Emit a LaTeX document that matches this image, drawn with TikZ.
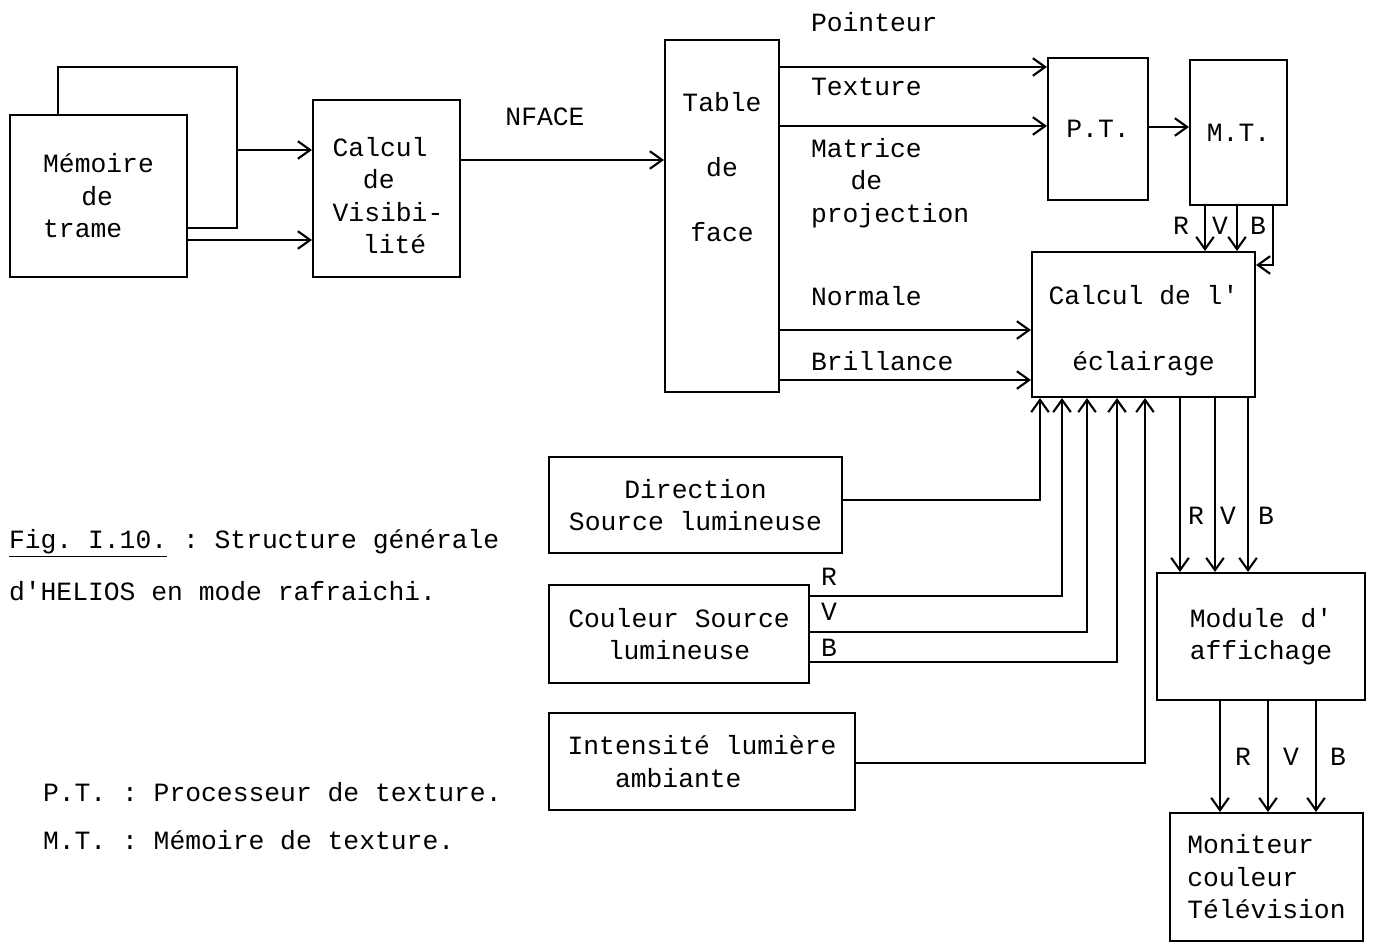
\documentclass[tikz,border=0pt]{standalone}
\usepackage{fontspec}
\setmonofont{Liberation Mono}
\usetikzlibrary{arrows.meta}
\begin{document}
\begin{tikzpicture}[x=0.02cm, y=-0.02cm, line width=1.2pt, >={Straight Barb[length=7pt,width=10pt]},
		every node/.style={font=\fontsize{15}{18.5}\selectfont\ttfamily},
		box/.style={draw, fill=white, align=center, inner sep=0pt},
		lbl/.style={inner sep=0pt, align=left}]
	\useasboundingbox (0,0) rectangle (1373,943);
	\node[box, minimum width=3.58cm, minimum height=3.22cm] (memback) at (147.5,147.5) {};
	\node[box, minimum width=3.54cm, minimum height=3.24cm, align=left] (mem) at (98.5,196) {Mémoire\\\hspace*{1.45em}de\\trame};
	\node[box, minimum width=2.94cm, minimum height=3.54cm] (vis) at (386.5,188.5) {};
	\node[lbl] (vistxt) at (388,195.5) {Calcul\\\hspace*{1.15em}de\\Visibi-\\\hspace*{1.15em}lité};
	\node[box, minimum width=2.28cm, minimum height=7.04cm] (table) at (722,216) {};
	\node[lbl, align=center] (tabletxt) at (722,167) {Table\\[18.5pt]de\\[18.5pt]face};
	\node[box, minimum width=2.0cm, minimum height=2.84cm] (pt) at (1098,129) {P.T.};
	\node[box, minimum width=1.94cm, minimum height=2.9cm] (mt) at (1238.5,132.5) {M.T.};
	\node[box, minimum width=4.46cm, minimum height=2.9cm] (ecl) at (1143.5,324.5) {};
	\node[lbl, align=center] (ecltxt) at (1143.5,331) {Calcul de l'\\[19pt]éclairage};
	\node[box, minimum width=5.86cm, minimum height=1.92cm] (dir) at (695.5,505) {Direction\\Source lumineuse};
	\node[box, minimum width=5.2cm, minimum height=1.96cm] (coul) at (679,634) {Couleur Source\\lumineuse};
	\node[box, minimum width=6.12cm, minimum height=1.94cm, align=left] (amb) at (702,761.5) {Intensité lumière\\\hspace*{1.8em}ambiante};
	\node[box, minimum width=4.16cm, minimum height=2.54cm, align=left] (mod) at (1261,636.5) {Module d'\\affichage};
	\node[box, minimum width=3.86cm, minimum height=2.56cm, align=left] (mon) at (1266.5,877) {Moniteur\\couleur\\Télévision};
	\draw[->] (memback.east |- 0,150) -- (vis.west |- 0,150);
	\draw[->] (mem.east |- 0,240) -- (vis.west |- 0,240);
	\draw[->] (vis.east |- 0,160) -- (table.west |- 0,160);
	\node (nface) at (545,117) {NFACE};
	\draw[->] (table.east |- 0,67) -- (pt.west |- 0,67);
	\draw[->] (table.east |- 0,126) -- (pt.west |- 0,126);
	\node[lbl, anchor=west] (pointeur) at (810,22) {Pointeur};
	\node[lbl, anchor=west] (texture) at (810,87) {Texture};
	\node[lbl, anchor=west] (matrice) at (810,183) {Matrice\\\hspace*{1.5em}de\\projection};
	\draw[->] (pt.east |- 0,127) -- (mt.west |- 0,127);
	\draw[->] (1205,0 |- mt.south) -- (1205,0 |- ecl.north);
	\draw[->] (1237,0 |- mt.south) -- (1237,0 |- ecl.north);
	\draw[->] (1273,0 |- mt.south) -- (1273,265) -- (ecl.east |- 0,265);
	\node (r1) at (1181,226) {R};
	\node (v1) at (1220,226) {V};
	\node (b1) at (1258,226) {B};
	\draw[->] (table.east |- 0,330) -- (ecl.west |- 0,330);
	\draw[->] (table.east |- 0,380) -- (ecl.west |- 0,380);
	\node[lbl, anchor=west] (normale) at (810,296) {Normale};
	\node[lbl, anchor=west] (brillance) at (810,361) {Brillance};
	\draw[->] (dir.east |- 0,500) -- (1040,500) -- (1040,0 |- ecl.south);
	\draw[->] (coul.east |- 0,596) -- (1062,596) -- (1062,0 |- ecl.south);
	\draw[->] (coul.east |- 0,632) -- (1087,632) -- (1087,0 |- ecl.south);
	\draw[->] (coul.east |- 0,662) -- (1117,662) -- (1117,0 |- ecl.south);
	\draw[->] (amb.east |- 0,763) -- (1145,763) -- (1145,0 |- ecl.south);
	\node (r2) at (829,577) {R};
	\node (v2) at (829,612) {V};
	\node (b2) at (829,648) {B};
	\draw[->] (1180,0 |- ecl.south) -- (1180,0 |- mod.north);
	\draw[->] (1215,0 |- ecl.south) -- (1215,0 |- mod.north);
	\draw[->] (1248,0 |- ecl.south) -- (1248,0 |- mod.north);
	\node (r3) at (1196,516) {R};
	\node (v3) at (1228,516) {V};
	\node (b3) at (1266,516) {B};
	\draw[->] (1220,0 |- mod.south) -- (1220,0 |- mon.north);
	\draw[->] (1268,0 |- mod.south) -- (1268,0 |- mon.north);
	\draw[->] (1316,0 |- mod.south) -- (1316,0 |- mon.north);
	\node (r4) at (1243,757) {R};
	\node (v4) at (1291,757) {V};
	\node (b4) at (1338,757) {B};
	\node[lbl, anchor=west] (fig1) at (8,543) {\underline{Fig. I.10.} : Structure générale};
	\node[lbl, anchor=west] (fig2) at (8,591) {d'HELIOS en mode rafraichi.};
	\node[lbl, anchor=west] (leg1) at (42,792) {P.T. : Processeur de texture.};
	\node[lbl, anchor=west] (leg2) at (42,840) {M.T. : Mémoire de texture.};
\end{tikzpicture}
\end{document}
